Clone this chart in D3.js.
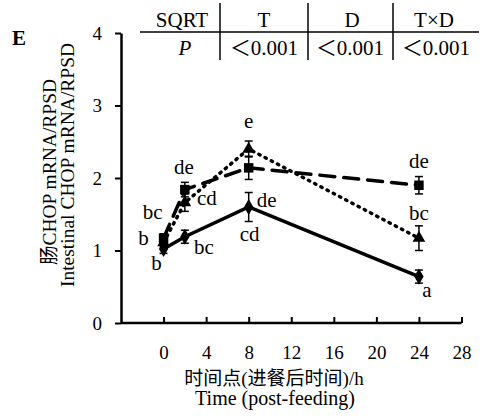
<!DOCTYPE html>
<html>
<head>
<meta charset="utf-8">
<script src="https://cdn.jsdelivr.net/npm/d3@7"></script>
<style>
  body { margin: 0; background: #fff; }
  svg text { font-family: "Liberation Serif", "DejaVu Serif", "Noto Sans CJK SC", serif; fill: #000; }
</style>
</head>
<body>
<svg id="chart" width="482" height="419"></svg>
<script>
// Sampling times after feeding (h)
const times = [0, 2, 8, 24];

// Relative CHOP mRNA expression for each group
const solidValues  = [1.02, 1.19, 1.60, 0.64];
const solidErrors  = [0.06, 0.09, 0.20, 0.09];
const solidLetters = ["b", "bc", "cd", "a"];

const dashValues  = [1.17, 1.84, 2.14, 1.90];
const dashErrors  = [0.06, 0.10, 0.16, 0.12];
const dashLetters = ["b", "de", "", "de"];

const dotValues  = [1.11, 1.66, 2.40, 1.17];
const dotErrors  = [0.06, 0.12, 0.11, 0.17];
const dotLetters = ["bc", "cd", "e", "bc"];

// Extra letter at 8 h for the solid curve (upper)
const solidUpperLetter = "de";

const xTicks = [0, 4, 8, 12, 16, 20, 24, 28];
const yTicks = [0, 1, 2, 3, 4];

// ANOVA summary table
const tableHeads = ["SQRT", "T", "D", "T×D"];
const tableVals  = ["P", "＜0.001", "＜0.001", "＜0.001"];

const serif = '"Liberation Serif", "DejaVu Serif", serif';
const svg = d3.select("#chart").attr("font-family", serif);

const x = d3.scaleLinear().domain([-4, 28]).range([121, 461.5]);
const y = d3.scaleLinear().domain([0, 4]).range([323, 33]);

// Axes
const xAxis = d3.axisBottom(x).tickValues(xTicks).tickSizeInner(-6).tickSizeOuter(0)
  .tickFormat(d3.format("d")).tickPadding(23);
const gx = svg.append("g").attr("transform", `translate(0,${y(0)})`).call(xAxis).attr("font-family", serif);
gx.select(".domain").attr("d", `M${x(-4)},0H${x(28)}`).attr("stroke-width", 2.5);
gx.selectAll(".tick line").attr("stroke-width", 2);
gx.selectAll(".tick text").attr("font-size", 19);

const yAxis = d3.axisLeft(y).tickValues(yTicks).tickFormat(d3.format("d"))
  .tickSizeInner(6).tickSizeOuter(0).tickPadding(13);
const gy = svg.append("g").attr("transform", `translate(${x(-4)},0)`).call(yAxis).attr("font-family", serif);
gy.select(".domain").attr("stroke-width", 2.5);
gy.selectAll(".tick line").attr("stroke-width", 2);
gy.selectAll(".tick text").attr("font-size", 19);

// Panel letter
svg.append("text").attr("x", 12).attr("y", 45).attr("font-size", 21).attr("font-weight", "bold").text("E");

// Y-axis title (two rotated lines)
svg.append("text").attr("transform", "translate(56,172) rotate(-90)")
  .attr("text-anchor", "middle").attr("font-size", 19.5).text("肠CHOP mRNA/RPSD");
svg.append("text").attr("transform", "translate(74,165) rotate(-90)")
  .attr("text-anchor", "middle").attr("font-size", 19.5).text("Intestinal CHOP mRNA/RPSD");

// X-axis title
svg.append("text").attr("x", 274).attr("y", 385).attr("text-anchor", "middle").attr("font-size", 19)
  .text("时间点(进餐后时间)/h");
svg.append("text").attr("x", 275).attr("y", 405).attr("text-anchor", "middle").attr("font-size", 20)
  .text("Time (post-feeding)");

// Summary table
const headX = [182, 264, 352, 434];
const valX  = [185, 264, 350, 436];
const tbl = svg.append("g");
tbl.append("line").attr("x1", 140).attr("x2", 479).attr("y1", 32).attr("y2", 32)
  .attr("stroke", "#000").attr("stroke-width", 1.5);
[220, 308, 393].forEach(vx => {
  tbl.append("line").attr("x1", vx).attr("x2", vx).attr("y1", 3).attr("y2", 60)
    .attr("stroke", "#000").attr("stroke-width", 1.5);
});
tableHeads.forEach((t, i) => {
  tbl.append("text").attr("x", headX[i]).attr("y", 27).attr("text-anchor", "middle").attr("font-size", 21).text(t);
});
tableVals.forEach((t, i) => {
  tbl.append("text").attr("x", valX[i]).attr("y", 55).attr("text-anchor", "middle").attr("font-size", 21)
    .attr("font-style", i === 0 ? "italic" : "normal").text(t);
});

// Series drawing
const line = d3.line().x((d, i) => x(times[i])).y(d => y(d));

function drawSeries(values, errors, dash, width, symbol, size) {
  const g = svg.append("g");
  g.append("path").datum(values).attr("d", line).attr("fill", "none").attr("stroke", "#000")
    .attr("stroke-width", width).attr("stroke-dasharray", dash).attr("stroke-linecap", dash ? "round" : "butt");
  values.forEach((v, i) => {
    const cx = x(times[i]);
    const e = errors[i];
    g.append("line").attr("x1", cx).attr("x2", cx).attr("y1", y(v - e)).attr("y2", y(v + e))
      .attr("stroke", "#000").attr("stroke-width", 1.5);
    [v - e, v + e].forEach(w => {
      g.append("line").attr("x1", cx - 4).attr("x2", cx + 4).attr("y1", y(w)).attr("y2", y(w))
        .attr("stroke", "#000").attr("stroke-width", 1.5);
    });
    g.append("path").attr("d", d3.symbol().type(symbol).size(size)())
      .attr("transform", `translate(${cx},${y(v)})`).attr("fill", "#000");
  });
}

drawSeries(dotValues, dotErrors, "1.5,5.5", 3.5, d3.symbolTriangle, 70);
drawSeries(dashValues, dashErrors, "15,9", 3.5, d3.symbolSquare, 90);
drawSeries(solidValues, solidErrors, null, 3.5, d3.symbolDiamond, 75);

// Significance letters
function letter(t, px, py) {
  svg.append("text").attr("x", px).attr("y", py).attr("text-anchor", "middle").attr("font-size", 21).text(t);
}
// 0 h
letter(dotLetters[0], x(0) - 11, y(dotValues[0]) - 24);
letter(dashLetters[0], x(0) - 20, y(dashValues[0]) + 7);
letter(solidLetters[0], x(0) - 7, y(solidValues[0]) + 21);
// 2 h
letter(dashLetters[1], x(2) - 1, y(dashValues[1]) - 16);
letter(dotLetters[1], x(2) + 22, y(dotValues[1]) + 2);
letter(solidLetters[1], x(2) + 19, y(solidValues[1]) + 17);
// 8 h
letter(dotLetters[2], x(8), y(dotValues[2]) - 21);
letter(solidUpperLetter, x(8) + 18, y(solidValues[2]) + 0);
letter(solidLetters[2], x(8) + 1, y(solidValues[2]) + 34);
// 24 h
letter(dashLetters[3], x(24), y(dashValues[3]) - 17);
letter(dotLetters[3], x(24), y(dotValues[3]) - 18);
letter(solidLetters[3], x(24) + 8, y(solidValues[3]) + 20);
</script>
</body>
</html>
